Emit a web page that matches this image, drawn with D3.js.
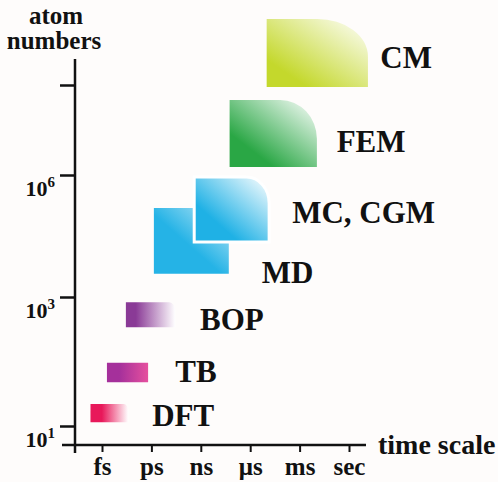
<!DOCTYPE html>
<html>
<head>
<meta charset="utf-8">
<script src="https://cdn.jsdelivr.net/npm/d3@7"></script>
<style>
  html, body { margin: 0; padding: 0; background: #fefcfb; }
  svg { display: block; }
</style>
</head>
<body>
<svg id="chart" width="498" height="482"></svg>
<script>
// ---------- DATA ----------
const models      = ["DFT", "TB", "BOP", "MD", "MC, CGM", "FEM", "CM"];
// time range, log10(seconds)
const timeStart   = [-15.7, -14.7, -13.55, -11.85, -9.4, -7.25, -5.0];
const timeEnd     = [-13.4, -12.2, -10.55, -7.3, -4.85, -1.95, 1.15];
// atom number range, log10(atoms)
const atomsStart  = [1.06, 1.68, 2.53, 3.57, 4.35, 6.27, 8.93];
const atomsEnd    = [1.34, 1.98, 2.92, 5.19, 5.95, 8.5, 11.2];
// label anchors in data units
const labelTime   = [-11.95, -10.55, -9.05, -5.3, -3.45, -0.75, 1.9];
const labelAtoms  = [1.0, 1.68, 2.49, 3.34, 4.82, 6.77, 9.57];

const timeTickValues = [-15, -12, -9, -6, -3, 0];
const timeTickLabels = ["fs", "ps", "ns", "\u03bcs", "ms", "sec"];
const atomTickValues = [1, 3, 6, 9];
const atomTickLabels = ["1", "3", "6", ""];   // exponents of 10

// ---------- STYLE ----------
const FONT = "'Liberation Serif', Tinos, 'Times New Roman', serif";
const style = {
  "DFT":     { c0: "#e8185a", c1: "#ffffff", dir: "h", s: 0.3,  rx: 0.12, ry: 0.35 },
  "TB":      { c0: "#a5309b", c1: "#e6509e", dir: "h", s: 0.3,  rx: 0.0,  ry: 0.0 },
  "BOP":     { c0: "#8a3a96", c1: "#ffffff", dir: "h", s: 0.2,  rx: 0.12, ry: 0.35 },
  "MD":      { c0: "#25b3e6", c1: "#bfe8f7", dir: "d", s: 0.45, rx: 0.3,  ry: 0.35 },
  "MC, CGM": { c0: "#1fb1e5", c1: "#ffffff", dir: "d", s: 0.3,  rx: 0.3,  ry: 0.4 },
  "FEM":     { c0: "#2aa745", c1: "#ffffff", dir: "d", s: 0.25, rx: 0.42, ry: 0.58 },
  "CM":      { c0: "#c4d82c", c1: "#ffffff", dir: "d", s: 0.2,  rx: 0.5,  ry: 0.55 }
};

// ---------- LAYOUT ----------
const svg = d3.select("#chart");
const yAxisX = 75, xAxisY = 445;
const x = d3.scaleLinear().domain([-15, 0]).range([102, 349]);
const y = d3.scaleLinear().domain([1, 3, 6, 9]).range([426, 297, 175, 85]);

const defs = svg.append("defs");
models.forEach((m, i) => {
  const s = style[m];
  const g = defs.append("linearGradient").attr("id", "g" + i)
    .attr("x1", 0).attr("y1", s.dir === "h" ? 0 : 1)
    .attr("x2", 1).attr("y2", 0);
  g.append("stop").attr("offset", 0).attr("stop-color", s.c0);
  g.append("stop").attr("offset", s.s).attr("stop-color", s.c0);
  g.append("stop").attr("offset", 1).attr("stop-color", s.c1);
});

// ---------- BOXES ----------
function boxPath(i) {
  const s = style[models[i]];
  const x0 = x(timeStart[i]), x1 = x(timeEnd[i]);
  const yb = y(atomsStart[i]), yt = y(atomsEnd[i]);
  const rx = s.rx * (x1 - x0), ry = s.ry * (yb - yt);
  if (rx <= 0 || ry <= 0) {
    return `M${x0},${yb}L${x0},${yt}L${x1},${yt}L${x1},${yb}Z`;
  }
  return `M${x0},${yb}L${x0},${yt}L${x1 - rx},${yt}` +
         `A${rx},${ry} 0 0 1 ${x1},${yt + ry}L${x1},${yb}Z`;
}

svg.append("g").selectAll("path")
  .data(models)
  .join("path")
  .attr("d", (d, i) => boxPath(i))
  .attr("fill", (d, i) => `url(#g${i})`)
  .attr("stroke", (d) => d === "MC, CGM" ? "#ffffff" : "none")
  .attr("stroke-width", 3);

function serif(sel, size) {
  return sel.style("font-family", FONT).style("font-weight", "bold")
            .style("font-size", size + "px").style("fill", "#111");
}

// ---------- BOX LABELS ----------
serif(svg.append("g").selectAll("text")
  .data(models)
  .join("text")
  .attr("x", (d, i) => x(labelTime[i]))
  .attr("y", (d, i) => y(labelAtoms[i]))
  .text(d => d), 31);

// ---------- AXES ----------
// Y axis
const yAxis = svg.append("g")
  .attr("transform", `translate(${yAxisX},0)`)
  .call(d3.axisLeft(y).tickValues(atomTickValues).tickSize(15).tickFormat(""));
yAxis.select(".domain").remove();
yAxis.selectAll(".tick line").attr("stroke", "#111").attr("stroke-width", 2.5);
svg.append("line")
  .attr("x1", yAxisX).attr("x2", yAxisX)
  .attr("y1", 59).attr("y2", 453)
  .attr("stroke", "#111").attr("stroke-width", 2.5);

const yLab = serif(svg.append("g").selectAll("text")
  .data(atomTickValues.filter((d, i) => atomTickLabels[i] !== ""))
  .join("text")
  .attr("x", yAxisX - 20)
  .attr("y", d => y(d) + 21)
  .attr("text-anchor", "end"), 22);
yLab.append("tspan").text("10");
yLab.append("tspan")
  .style("font-size", "15px").attr("dy", -9)
  .text((d) => atomTickLabels[atomTickValues.indexOf(d)]);

// X axis
const xAxis = svg.append("g")
  .attr("transform", `translate(0,${xAxisY})`)
  .call(d3.axisBottom(x).tickValues(timeTickValues).tickSize(7)
        .tickFormat((d, i) => timeTickLabels[i]));
xAxis.select(".domain").remove();
xAxis.selectAll(".tick line").attr("stroke", "#111").attr("stroke-width", 2);
serif(xAxis.selectAll(".tick text").attr("y", 30).attr("dy", 0), 25);
svg.append("line")
  .attr("x1", 62).attr("x2", 366)
  .attr("y1", xAxisY).attr("y2", xAxisY)
  .attr("stroke", "#111").attr("stroke-width", 2.5);

// Axis titles
serif(svg.append("text").attr("x", 56).attr("y", 24).attr("text-anchor", "middle").text("atom"), 25);
serif(svg.append("text").attr("x", 54).attr("y", 49).attr("text-anchor", "middle").text("numbers"), 25);
serif(svg.append("text").attr("x", 378).attr("y", 454).text("time scale"), 28);
</script>
</body>
</html>
